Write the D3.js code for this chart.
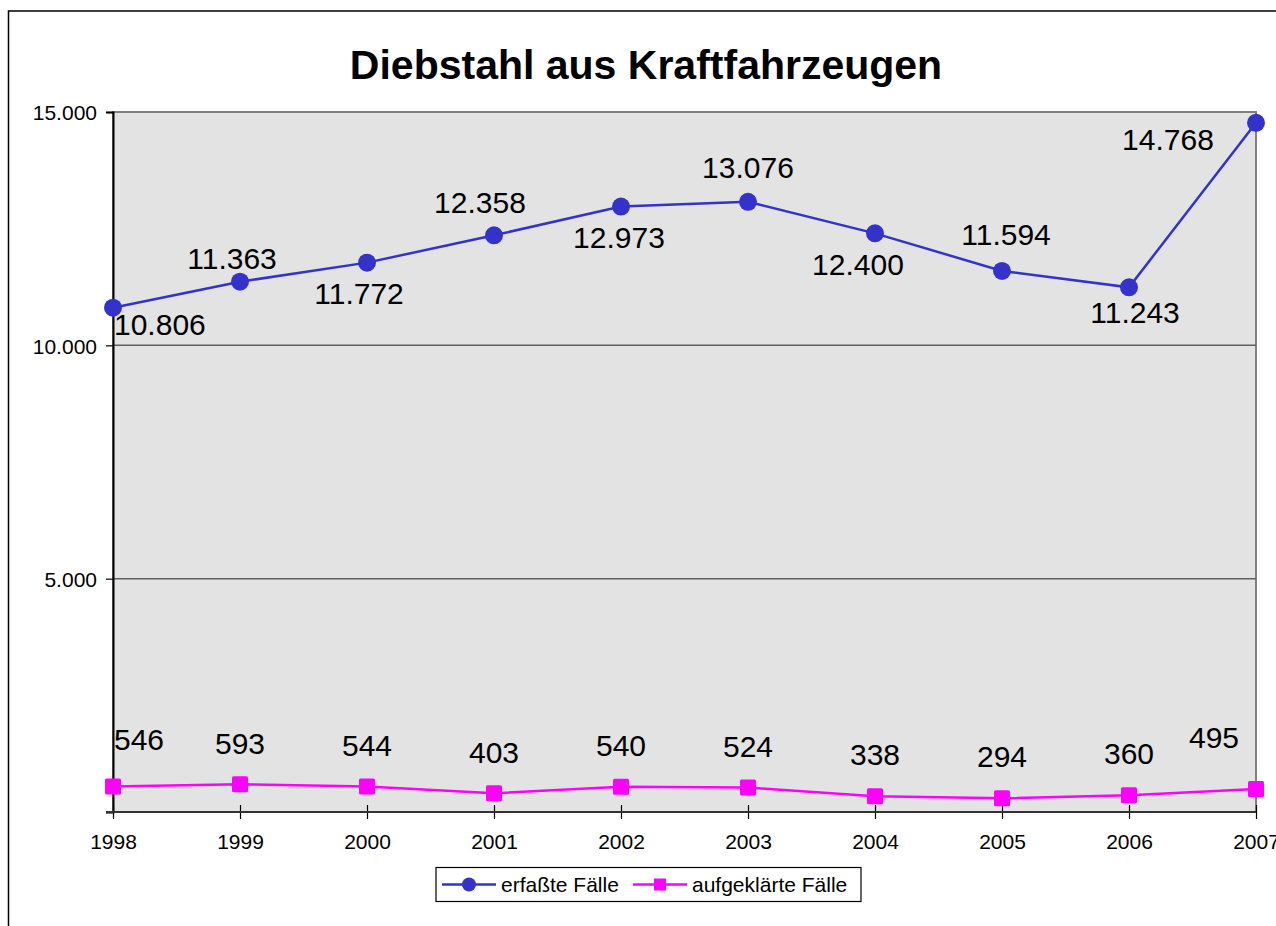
<!DOCTYPE html>
<html>
<head>
<meta charset="utf-8">
<script src="https://cdn.jsdelivr.net/npm/d3@7"></script>
<style>
  html, body { margin: 0; padding: 0; background: #fff; }
  svg { display: block; font-family: "Liberation Sans", Arial, sans-serif; }
</style>
</head>
<body>
<svg id="chart" width="1276" height="926"></svg>
<script>
// ---- data ----
const years = ["1998", "1999", "2000", "2001", "2002", "2003", "2004", "2005", "2006", "2007"];
const erfassteFaelle = [10806, 11363, 11772, 12358, 12973, 13076, 12400, 11594, 11243, 14768];
const aufgeklaerteFaelle = [546, 593, 544, 403, 540, 524, 338, 294, 360, 495];
const yTickValues = [0, 5000, 10000, 15000];
const seriesNames = ["erfaßte Fälle", "aufgeklärte Fälle"];
const chartTitle = "Diebstahl aus Kraftfahrzeugen";

// ---- label placement (layout only) ----
const erfLabelOffsets = [[1, 27, "start"], [-8, -13], [-8, 41], [-14, -22], [-2, 41], [0, -24], [-17, 42], [4, -26], [6, 36], [-88, 27]];
const aufLabelOffsets = [[1, -37, "start"], [0, -30], [0, -31], [0, -30], [0, -31], [0, -31], [0, -31], [0, -31], [0, -31], [-42, -41]];

const svg = d3.select("#chart");
const W = 1276, H = 926;
const plot = { left: 113, right: 1256, top: 112, bottom: 812 };

const de = d3.formatLocale({ decimal: ",", thousands: ".", grouping: [3], currency: ["", " €"] });
const fmt = de.format(",d");

// outer chart border (cropped on right/bottom)
svg.append("rect").attr("x", 8.5).attr("y", 11).attr("width", W).attr("height", H)
  .attr("fill", "#fff").attr("stroke", "#000").attr("stroke-width", 1.5);

// title
svg.append("text").attr("x", 646).attr("y", 79).attr("text-anchor", "middle")
  .attr("font-size", 41).attr("font-weight", "bold").attr("fill", "#000").text(chartTitle);

const x = d3.scalePoint().domain(years).range([plot.left, plot.right]);
const y = d3.scaleLinear().domain([0, 15000]).range([plot.bottom, plot.top]);

// plot background
svg.append("rect").attr("x", plot.left).attr("y", plot.top)
  .attr("width", plot.right - plot.left).attr("height", plot.bottom - plot.top)
  .attr("fill", "#e3e3e3").attr("stroke", "#808080").attr("stroke-width", 2);

// gridlines
svg.append("g").selectAll("line").data(yTickValues.filter(d => d > 0 && d < 15000)).join("line")
  .attr("x1", plot.left).attr("x2", plot.right)
  .attr("y1", d => y(d)).attr("y2", d => y(d))
  .attr("stroke", "#606060").attr("stroke-width", 1.5);

// y axis
const yAxis = svg.append("g").attr("transform", `translate(${plot.left},0)`)
  .call(d3.axisLeft(y).tickValues(yTickValues).tickSize(7).tickPadding(9)
    .tickFormat(d => d === 0 ? "" : fmt(d)));
yAxis.select(".domain").attr("stroke", "#000").attr("stroke-width", 2);
yAxis.selectAll(".tick line").attr("stroke", "#000").attr("stroke-width", 1.2);
yAxis.selectAll(".tick text").attr("font-size", 21).attr("fill", "#000")
  .attr("font-family", "Liberation Sans, Arial, sans-serif").attr("dy", "0.38em");

// x axis
const xAxis = svg.append("g").attr("transform", `translate(0,${plot.bottom})`)
  .call(d3.axisBottom(x).tickSize(7));
xAxis.select(".domain").remove();
xAxis.append("line").attr("x1", plot.left - 7).attr("x2", plot.right)
  .attr("y1", 0).attr("y2", 0).attr("stroke", "#333").attr("stroke-width", 2);
xAxis.selectAll(".tick line").attr("y1", -7).attr("y2", 7).attr("stroke", "#000").attr("stroke-width", 1.2);
xAxis.selectAll(".tick text").attr("y", 37).attr("dy", 0).attr("font-size", 21).attr("fill", "#000")
  .attr("font-family", "Liberation Sans, Arial, sans-serif");

// series
const blue = "#3333cc", magenta = "#ff00ff";
const line = d3.line().x((d, i) => x(years[i])).y(d => y(d));

svg.append("path").datum(erfassteFaelle).attr("d", line)
  .attr("fill", "none").attr("stroke", blue).attr("stroke-width", 2.5);
svg.append("path").datum(aufgeklaerteFaelle).attr("d", line)
  .attr("fill", "none").attr("stroke", magenta).attr("stroke-width", 2.5);

svg.append("g").selectAll("circle").data(erfassteFaelle).join("circle")
  .attr("cx", (d, i) => x(years[i])).attr("cy", d => y(d)).attr("r", 9).attr("fill", blue);
svg.append("g").selectAll("rect").data(aufgeklaerteFaelle).join("rect")
  .attr("x", (d, i) => x(years[i]) - 8).attr("y", d => y(d) - 8)
  .attr("width", 16).attr("height", 16).attr("rx", 1.5).attr("fill", magenta);

// data labels
function labels(data, offs) {
  svg.append("g").selectAll("text").data(data).join("text")
    .attr("x", (d, i) => x(years[i]) + offs[i][0])
    .attr("y", (d, i) => y(d) + offs[i][1])
    .attr("text-anchor", (d, i) => offs[i][2] || "middle")
    .attr("font-size", 30).attr("fill", "#000")
    .text(d => fmt(d));
}
labels(erfassteFaelle, erfLabelOffsets);
labels(aufgeklaerteFaelle, aufLabelOffsets);

// legend
const lg = svg.append("g");
lg.append("rect").attr("x", 436).attr("y", 867.5).attr("width", 425).attr("height", 34)
  .attr("fill", "#fff").attr("stroke", "#000").attr("stroke-width", 1.2);
const ly = 884.5;
lg.append("line").attr("x1", 442).attr("x2", 496).attr("y1", ly).attr("y2", ly).attr("stroke", blue).attr("stroke-width", 2.5);
lg.append("circle").attr("cx", 469).attr("cy", ly).attr("r", 7).attr("fill", blue);
lg.append("text").attr("x", 501).attr("y", ly + 7).attr("font-size", 21).attr("fill", "#000").text(seriesNames[0]);
lg.append("line").attr("x1", 633).attr("x2", 687).attr("y1", ly).attr("y2", ly).attr("stroke", magenta).attr("stroke-width", 2.5);
lg.append("rect").attr("x", 654).attr("y", ly - 6).attr("width", 12).attr("height", 12).attr("fill", magenta);
lg.append("text").attr("x", 692).attr("y", ly + 7).attr("font-size", 21).attr("fill", "#000").text(seriesNames[1]);
</script>
</body>
</html>
